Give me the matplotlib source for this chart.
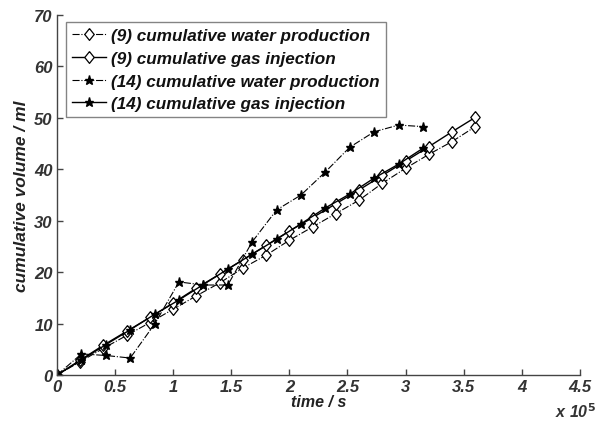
import matplotlib
matplotlib.use("Agg")
import matplotlib.pyplot as plt

# time in units of 1e5 s
t9 = [0, 0.2, 0.4, 0.6, 0.8, 1.0, 1.2, 1.4, 1.6, 1.8, 2.0, 2.2, 2.4, 2.6, 2.8, 3.0, 3.2, 3.4, 3.6]
water9 = [0, 2.6, 5.2, 7.7, 10.2, 12.8, 15.4, 17.9, 20.8, 23.3, 26.2, 28.8, 31.4, 34.0, 37.3, 40.2, 42.9, 45.4, 48.3]
gas9 = [0, 2.9, 5.8, 8.5, 11.2, 14.0, 16.9, 19.6, 22.4, 25.2, 28.0, 30.6, 33.3, 36.0, 38.8, 41.6, 44.4, 47.3, 50.1]

t14 = [0, 0.21, 0.42, 0.63, 0.84, 1.05, 1.26, 1.47, 1.68, 1.89, 2.10, 2.31, 2.52, 2.73, 2.94, 3.15]
water14 = [0, 4.1, 3.8, 3.3, 9.9, 18.1, 17.5, 17.5, 25.9, 32.1, 35.0, 39.5, 44.3, 47.3, 48.6, 48.3]
gas14 = [0, 2.9, 5.9, 8.8, 11.8, 14.6, 17.6, 20.6, 23.5, 26.4, 29.4, 32.5, 35.2, 38.3, 41.0, 44.1]

labels = ["(9) cumulative water production", "(9) cumulative gas injection",
          "(14) cumulative water production", "(14) cumulative gas injection"]
xticks = [0, 0.5, 1, 1.5, 2, 2.5, 3, 3.5, 4, 4.5]
xticklabels = ["0", "0.5", "1", "1.5", "2", "2.5", "3", "3.5", "4", "4.5"]
yticks = [0, 10, 20, 30, 40, 50, 60, 70]

plt.rcParams['font.family'] = ['Liberation Sans', 'DejaVu Sans']
fig = plt.figure(figsize=(5.96, 4.27), dpi=100)
ax = fig.add_axes([0.0956, 0.1194, 0.8774, 0.8431])

diamond = [(0, 1), (0.8, 0), (0, -1), (-0.8, 0), (0, 1)]
dkw = dict(marker=diamond, markersize=8.5, markerfacecolor='white', markeredgecolor='black', markeredgewidth=0.9)
skw = dict(marker='*', markersize=6.5, markerfacecolor='black', markeredgecolor='black')
ax.plot(t9, water9, linestyle='-.', color='black', linewidth=0.8, label=labels[0], **dkw)
ax.plot(t9, gas9, linestyle='-', color='black', linewidth=1.0, label=labels[1], **dkw)
ax.plot(t14, water14, linestyle='-.', color='black', linewidth=0.8, label=labels[2], **skw)
ax.plot(t14, gas14, linestyle='-', color='black', linewidth=1.0, label=labels[3], **skw)

ax.set_xlim(0, 4.5)
ax.set_ylim(0, 70)
ax.set_xticks(xticks)
ax.set_xticklabels(xticklabels)
ax.set_yticks(yticks)
for s in ['top', 'right']:
    ax.spines[s].set_visible(False)
for s in ['left', 'bottom']:
    ax.spines[s].set_color('#444444')
    ax.spines[s].set_linewidth(1.0)
ax.tick_params(direction='in', length=4, width=1, colors='#444444', labelcolor='#333333',
               labelsize=12, pad=3)
for lab in ax.get_xticklabels() + ax.get_yticklabels():
    lab.set_fontweight('bold')
    lab.set_fontstyle('italic')

ax.set_xlabel("time / s", fontsize=11.5, fontweight='bold', fontstyle='italic', color='#222222', labelpad=0)
ax.set_ylabel("cumulative volume / ml", fontsize=12.5, fontweight='bold', fontstyle='italic', color='#222222', labelpad=4)

fig.text(0.932, 0.037, r"x 10$^{\mathbf{5}}$", fontsize=11.5, fontweight='bold', fontstyle='italic',
         color='#333333', ha='left', va='center')

leg = ax.legend(loc='upper left', bbox_to_anchor=(0.017, 0.98), frameon=True, fancybox=False,
                edgecolor='#666666', handlelength=2.0, handletextpad=0.3, borderpad=0.35,
                labelspacing=0.45, borderaxespad=0.0,
                prop={'weight': 'bold', 'style': 'italic', 'size': 12.3})
leg.get_frame().set_linewidth(1.0)
for txt in leg.get_texts():
    txt.set_color('#111111')

fig.savefig("out.png", dpi=100)
